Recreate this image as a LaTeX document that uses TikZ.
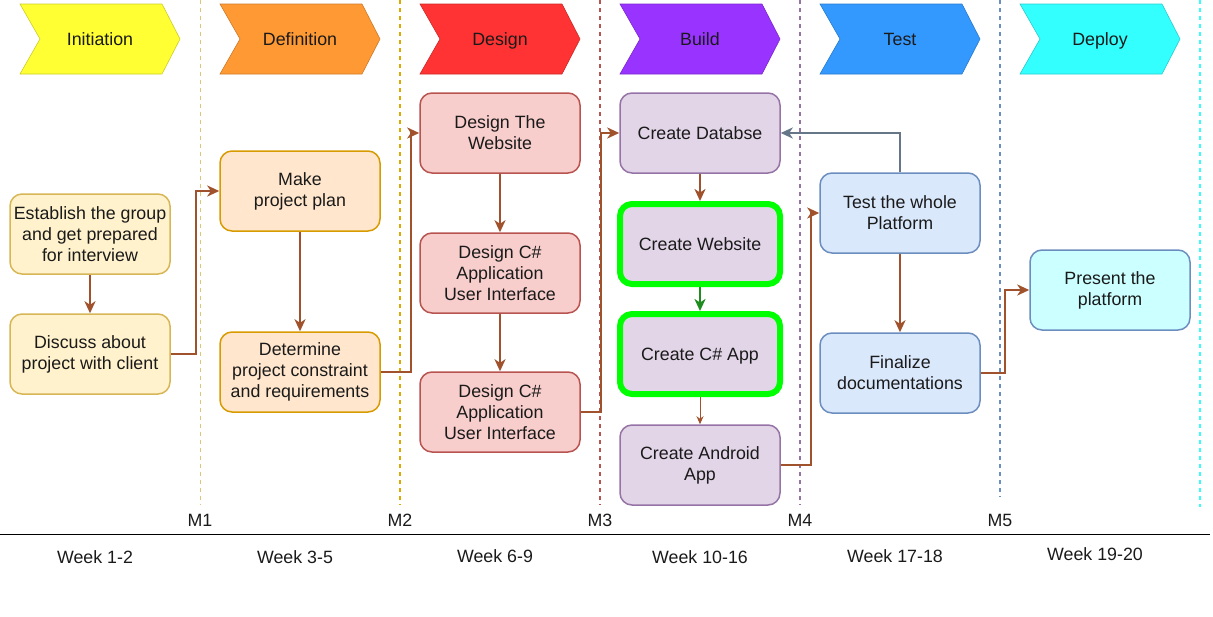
\documentclass[tikz,border=0pt]{standalone}
\usepackage{fontspec}
\setmainfont{Liberation Sans}
\usetikzlibrary{arrows.meta}
\definecolor{link}{HTML}{A0522D}
\definecolor{backlink}{HTML}{647687}
\definecolor{okgreen}{HTML}{00FF00}
\definecolor{okarrow}{HTML}{1E8C1E}
\definecolor{txt}{HTML}{1A1A1A}
\definecolor{initfill}{HTML}{FFF2CC}\definecolor{initline}{HTML}{D6B656}
\definecolor{defnfill}{HTML}{FFE6CC}\definecolor{defnline}{HTML}{D79B00}
\definecolor{dsgnfill}{HTML}{F8CECC}\definecolor{dsgnline}{HTML}{B85450}
\definecolor{bldfill}{HTML}{E1D5E7}\definecolor{bldline}{HTML}{9673A6}
\definecolor{tstfill}{HTML}{DAE8FC}\definecolor{tstline}{HTML}{6C8EBF}
\definecolor{dplfill}{HTML}{CCFFFF}\definecolor{dplline}{HTML}{33FFFF}
\begin{document}
\begin{tikzpicture}[x=1pt, y=-1pt,
  font=\fontsize{17.8}{21}\selectfont, text=txt,
  box/.style={rounded corners=12pt, line width=1.5pt, minimum width=160pt, minimum height=80pt, align=center, inner sep=0pt},
  init/.style={box, fill=initfill, draw=initline},
  defn/.style={box, fill=defnfill, draw=defnline},
  dsgn/.style={box, fill=dsgnfill, draw=dsgnline},
  bld/.style={box, fill=bldfill, draw=bldline},
  done/.style={bld, draw=okgreen, line width=6pt},
  tst/.style={box, fill=tstfill, draw=tstline},
  dpl/.style={box, fill=dplfill, draw=tstline},
  flow/.style={link, line width=2pt, -{Stealth[length=12pt,width=11pt,inset=3.5pt]}},
  mile/.style={dashed, dash pattern=on 4pt off 4pt, line width=1.5pt}]
\useasboundingbox (0,0) rectangle (1213,616);

% milestones
\foreach \x/\c/\w/\m/\e in {200/initline!80/0.8/1/505, 400/defnline!85!yellow/2/2/505, 600/dsgnline/1.5/3/505, 800/bldline/1.5/4/505, 1000/tstline/1.5/5/497} {
  \draw[mile, \c, line width=\w pt] (\x,0) -- (\x,\e);
  \node[anchor=base] (m\m) at (\x,526) {M\m};
}
\draw[mile, dplline] (1200,0) -- (1200,507);
\draw[thick] (0,534) -- (1210,534);

% phases
\foreach \cx/\name/\col in {100/Initiation/FFFF33, 300/Definition/FF9933, 500/Design/FF3333, 700/Build/9933FF, 900/Test/3399FF, 1100/Deploy/33FFFF} {
  \definecolor{ph}{HTML}{\col}
  \fill[ph] (\cx-80,4) -- (\cx+62,4) -- (\cx+80,39) -- (\cx+62,74) -- (\cx-80,74) -- (\cx-60,39) -- cycle;
  \draw[ph!80!black, line width=0.6pt] (\cx-80,4) -- (\cx+62,4) -- (\cx+80,39) -- (\cx+62,74) -- (\cx-80,74) -- (\cx-60,39) -- cycle;
  \node[anchor=base] (\name) at (\cx,45) {\name};
}

% weeks
\node[anchor=base] (w1) at (95,563) {Week 1-2};
\node[anchor=base] (w2) at (295,563) {Week 3-5};
\node[anchor=base] (w3) at (495,562) {Week 6-9};
\node[anchor=base] (w4) at (700,563) {Week 10-16};
\node[anchor=base] (w5) at (895,562) {Week 17-18};
\node[anchor=base] (w6) at (1095,560) {Week 19-20};

% tasks
\node[init] (group) at (90,234) {Establish the group\\and get prepared\\for interview};
\node[init] (client) at (90,354) {Discuss about\\project with client};
\node[defn] (plan) at (300,191) {Make\\project plan};
\node[defn] (reqs) at (300,372) {Determine\\project constraint\\and requirements};
\node[dsgn] (web) at (500,133) {Design The\\Website};
\node[dsgn] (ui) at (500,273) {Design C\#\\Application\\User Interface};
\node[dsgn] (ui2) at (500,412) {Design C\#\\Application\\User Interface};
\node[bld, text depth=0pt] (db) at (700,133) {Create Databse};
\node[done, text depth=0pt] (site) at (700,244) {Create Website};
\node[done, text depth=0pt] (app) at (700,354) {Create C\# App};
\node[bld] (android) at (700,465) {Create Android\\App};
\node[tst] (test) at (900,213) {Test the whole\\Platform};
\node[tst] (docs) at (900,373) {Finalize\\documentations};
\node[dpl] (present) at (1110,290) {Present the\\platform};

% links
\draw[flow] (group) -- (client);
\draw[flow] (client.east) -- ++(25,0) |- (plan.west);
\draw[flow] (plan) -- (reqs);
\draw[flow] (reqs.east) -- ++(30,0) |- (web.west);
\draw[flow] (web) -- (ui);
\draw[flow] (ui) -- (ui2);
\draw[flow] (ui2.east) -- ++(20,0) |- (db.west);
\draw[flow] (db) -- (site.north);
\draw[flow, okarrow] (site.south) -- (app.north);
\draw[flow, line width=1pt, -{Stealth[length=8pt,width=7pt,inset=2.5pt]}] (app.south) -- (android);
\draw[flow] (android.east) -- ++(30,0) |- (test.west);
\draw[flow] (test) -- (docs);
\draw[flow, backlink] (test.north) |- (db.east);
\draw[flow] (docs.east) -- ++(24,0) |- (present.west);
\end{tikzpicture}
\end{document}
